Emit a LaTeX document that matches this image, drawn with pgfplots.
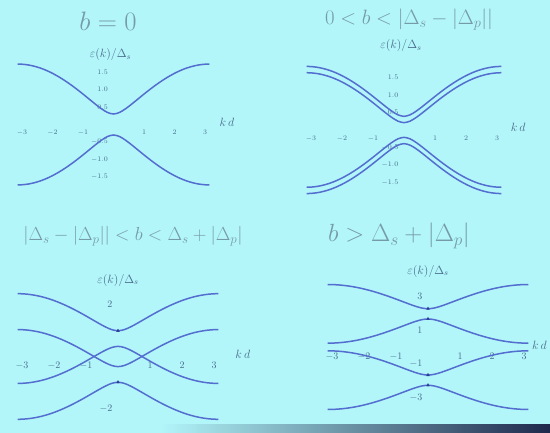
\documentclass[border=0pt]{standalone}
\usepackage{pgfplots}
\pgfplotsset{compat=1.18}
\usepackage{pgfplotstable}

\definecolor{screen}{RGB}{178,246,250}
\definecolor{band}{RGB}{84,110,208}
\definecolor{lbl}{RGB}{72,108,138}
\definecolor{ttl}{RGB}{118,155,168}
\definecolor{frame}{RGB}{30,40,75}
\definecolor{spin}{RGB}{40,60,150}

% quasiparticle bands eps(k)/Delta_s, one table per Zeeman field b
% b = 0
\pgfplotstableread{
k     a      d
-3.14 1.726 -1.726
-3.0  1.722 -1.722
-2.8  1.702 -1.702
-2.6  1.665 -1.665
-2.4  1.613 -1.613
-2.2  1.545 -1.545
-2.0  1.462 -1.462
-1.8  1.365 -1.365
-1.6  1.256 -1.256
-1.4  1.136 -1.136
-1.2  1.006 -1.006
-1.0  0.869 -0.869
-0.8  0.727 -0.727
-0.6  0.585 -0.585
-0.4  0.452 -0.452
-0.2  0.345 -0.345
0     0.300 -0.300
0.2   0.345 -0.345
0.4   0.452 -0.452
0.6   0.585 -0.585
0.8   0.727 -0.727
1.0   0.869 -0.869
1.2   1.006 -1.006
1.4   1.136 -1.136
1.6   1.256 -1.256
1.8   1.365 -1.365
2.0   1.462 -1.462
2.2   1.545 -1.545
2.4   1.613 -1.613
2.6   1.665 -1.665
2.8   1.702 -1.702
3.0   1.722 -1.722
3.14  1.726 -1.726
}\bandsA

% small b
\pgfplotstableread{
k     a      b      c      d
-3.14 1.816 1.636 -1.636 -1.816
-3.0  1.812 1.632 -1.632 -1.812
-2.8  1.792 1.612 -1.612 -1.792
-2.6  1.755 1.575 -1.575 -1.755
-2.4  1.703 1.523 -1.523 -1.703
-2.2  1.635 1.455 -1.455 -1.635
-2.0  1.552 1.372 -1.372 -1.552
-1.8  1.455 1.275 -1.275 -1.455
-1.6  1.346 1.166 -1.166 -1.346
-1.4  1.226 1.046 -1.046 -1.226
-1.2  1.096 0.916 -0.916 -1.096
-1.0  0.959 0.779 -0.779 -0.959
-0.8  0.817 0.637 -0.637 -0.817
-0.6  0.675 0.495 -0.495 -0.675
-0.4  0.542 0.362 -0.362 -0.542
-0.2  0.435 0.255 -0.255 -0.435
0     0.390 0.210 -0.210 -0.390
0.2   0.435 0.255 -0.255 -0.435
0.4   0.542 0.362 -0.362 -0.542
0.6   0.675 0.495 -0.495 -0.675
0.8   0.817 0.637 -0.637 -0.817
1.0   0.959 0.779 -0.779 -0.959
1.2   1.096 0.916 -0.916 -1.096
1.4   1.226 1.046 -1.046 -1.226
1.6   1.346 1.166 -1.166 -1.346
1.8   1.455 1.275 -1.275 -1.455
2.0   1.552 1.372 -1.372 -1.552
2.2   1.635 1.455 -1.455 -1.635
2.4   1.703 1.523 -1.523 -1.703
2.6   1.755 1.575 -1.575 -1.755
2.8   1.792 1.612 -1.612 -1.792
3.0   1.812 1.632 -1.632 -1.812
3.14  1.816 1.636 -1.636 -1.816
}\bandsB

% intermediate b: inner bands cross zero
\pgfplotstableread{
k     a      b      c      d
-3.14 2.416  1.036 -1.036 -2.416
-3.0  2.412  1.032 -1.032 -2.412
-2.8  2.392  1.012 -1.012 -2.392
-2.6  2.355  0.975 -0.975 -2.355
-2.4  2.303  0.923 -0.923 -2.303
-2.2  2.235  0.855 -0.855 -2.235
-2.0  2.152  0.772 -0.772 -2.152
-1.8  2.055  0.675 -0.675 -2.055
-1.6  1.946  0.566 -0.566 -1.946
-1.4  1.826  0.446 -0.446 -1.826
-1.2  1.696  0.316 -0.316 -1.696
-1.0  1.559  0.179 -0.179 -1.559
-0.8  1.417  0.037 -0.037 -1.417
-0.6  1.275 -0.105  0.105 -1.275
-0.4  1.142 -0.238  0.238 -1.142
-0.2  1.035 -0.345  0.345 -1.035
0     0.990 -0.390  0.390 -0.990
0.2   1.035 -0.345  0.345 -1.035
0.4   1.142 -0.238  0.238 -1.142
0.6   1.275 -0.105  0.105 -1.275
0.8   1.417  0.037 -0.037 -1.417
1.0   1.559  0.179 -0.179 -1.559
1.2   1.696  0.316 -0.316 -1.696
1.4   1.826  0.446 -0.446 -1.826
1.6   1.946  0.566 -0.566 -1.946
1.8   2.055  0.675 -0.675 -2.055
2.0   2.152  0.772 -0.772 -2.152
2.2   2.235  0.855 -0.855 -2.235
2.4   2.303  0.923 -0.923 -2.303
2.6   2.355  0.975 -0.975 -2.355
2.8   2.392  1.012 -1.012 -2.392
3.0   2.412  1.032 -1.032 -2.412
3.14  2.416  1.036 -1.036 -2.416
}\bandsC

% large b: four separated bands
\pgfplotstableread{
k     a      b      c      d
-3.14 3.676  0.224 -0.224 -3.676
-3.0  3.672  0.228 -0.228 -3.672
-2.8  3.652  0.248 -0.248 -3.652
-2.6  3.615  0.285 -0.285 -3.615
-2.4  3.563  0.337 -0.337 -3.563
-2.2  3.495  0.405 -0.405 -3.495
-2.0  3.412  0.488 -0.488 -3.412
-1.8  3.315  0.585 -0.585 -3.315
-1.6  3.206  0.694 -0.694 -3.206
-1.4  3.086  0.814 -0.814 -3.086
-1.2  2.956  0.944 -0.944 -2.956
-1.0  2.819  1.081 -1.081 -2.819
-0.8  2.677  1.223 -1.223 -2.677
-0.6  2.535  1.365 -1.365 -2.535
-0.4  2.402  1.498 -1.498 -2.402
-0.2  2.295  1.605 -1.605 -2.295
0     2.250  1.650 -1.650 -2.250
0.2   2.295  1.605 -1.605 -2.295
0.4   2.402  1.498 -1.498 -2.402
0.6   2.535  1.365 -1.365 -2.535
0.8   2.677  1.223 -1.223 -2.677
1.0   2.819  1.081 -1.081 -2.819
1.2   2.956  0.944 -0.944 -2.956
1.4   3.086  0.814 -0.814 -3.086
1.6   3.206  0.694 -0.694 -3.206
1.8   3.315  0.585 -0.585 -3.315
2.0   3.412  0.488 -0.488 -3.412
2.2   3.495  0.405 -0.405 -3.495
2.4   3.563  0.337 -0.337 -3.563
2.6   3.615  0.285 -0.285 -3.615
2.8   3.652  0.248 -0.248 -3.652
3.0   3.672  0.228 -0.228 -3.672
3.14  3.676  0.224 -0.224 -3.676
}\bandsD

\pgfplotsset{
  bandaxis/.style={
    anchor=origin,
    axis lines=middle,
    axis line style={draw=none},
    major tick style={draw=none},
    xmin=-3.3, xmax=3.3,
    xtick={-3,-2,-1,1,2,3},
    tick label style={text=lbl},
    clip=false,
  },
  bandline/.style={draw=band, line width=1.5pt, no marks, smooth},
  fine/.style={
    tick label style={font=\fontsize{7.5}{9}\selectfont},
    yticklabel style={/pgf/number format/.cd, fixed, fixed zerofill, precision=1},
  },
  coarse/.style={
    tick label style={font=\fontsize{10}{11}\selectfont},
  },
}

\newcommand{\ylab}{\fontsize{12}{13}\selectfont}

\begin{document}
\begin{tikzpicture}
\useasboundingbox (0,0) rectangle (550pt,433pt);
\fill[screen] (0,0) rectangle (550pt,433pt);
\clip (0,0) rectangle (550pt,433pt);
\shade[left color=screen, right color=frame] (160pt,0) rectangle (550pt,8pt);

% titles
\node[text=ttl, font=\fontsize{25}{28}\selectfont] at (108pt,412pt) {\scalebox{1.07}{$b=0$}};
\node[text=ttl, font=\fontsize{21}{24}\selectfont] at (409pt,413pt) {$0<b<\bigl|\Delta_s-|\Delta_p|\bigr|$};
\node[text=ttl, font=\fontsize{20}{24}\selectfont] at (133pt,197pt) {\scalebox{0.91}{$\bigl|\Delta_s-|\Delta_p|\bigr|<b<\Delta_s+|\Delta_p|$}};
\node[text=ttl, font=\fontsize{23}{26}\selectfont] at (399pt,197pt) {$b>\Delta_s+|\Delta_p|$};

% top left
\begin{axis}[bandaxis, fine, at={(113.5pt,308.5pt)}, x=30.5pt, y=35pt,
  ymin=-1.9, ymax=1.9, ytick={-1.5,-1,-0.5,0.5,1,1.5}]
  \addplot[bandline] table[x=k, y=a] {\bandsA};
  \addplot[bandline] table[x=k, y=d] {\bandsA};
  \node[text=lbl, font=\ylab] at (axis cs:-0.1,2.0) {$\varepsilon(k)/\Delta_s$};
  \node[text=lbl, font=\ylab] at (axis cs:3.72,0.05) {$k\,d$};
\end{axis}

% top right
\begin{axis}[bandaxis, fine, at={(404pt,303pt)}, x=31pt, y=35pt,
  ymin=-1.9, ymax=1.9, ytick={-1.5,-1,-0.5,0.5,1,1.5}]
  \addplot[bandline] table[x=k, y=a] {\bandsB};
  \addplot[bandline] table[x=k, y=b] {\bandsB};
  \addplot[bandline] table[x=k, y=c] {\bandsB};
  \addplot[bandline] table[x=k, y=d] {\bandsB};
  \node[text=lbl, font=\ylab] at (axis cs:-0.1,2.4) {$\varepsilon(k)/\Delta_s$};
  \node[text=lbl, font=\ylab] at (axis cs:3.68,0.08) {$k\,d$};
\end{axis}

% bottom left
\begin{axis}[bandaxis, coarse, at={(118pt,76.5pt)}, x=32pt, y=26pt,
  ymin=-2.6, ymax=2.6, ytick={-2,2}]
  \addplot[bandline] table[x=k, y=a] {\bandsC};
  \addplot[bandline] table[x=k, y=b] {\bandsC};
  \addplot[bandline] table[x=k, y=c] {\bandsC};
  \addplot[bandline] table[x=k, y=d] {\bandsC};
  \addplot[only marks, mark=triangle*, mark size=1.6pt, color=spin]
    coordinates {(0,0.99) (0,-0.99)};
  \node[text=lbl, font=\ylab] at (axis cs:0,2.94) {$\varepsilon(k)/\Delta_s$};
  \node[text=lbl, font=\ylab] at (axis cs:3.9,0.1) {$k\,d$};
\end{axis}

% bottom right
\begin{axis}[bandaxis, coarse, at={(428pt,86pt)}, x=32pt, y=17pt,
  ymin=-3.9, ymax=3.9, ytick={-3,-1,1,3}]
  \addplot[bandline] table[x=k, y=a] {\bandsD};
  \addplot[bandline] table[x=k, y=b] {\bandsD};
  \addplot[bandline] table[x=k, y=c] {\bandsD};
  \addplot[bandline] table[x=k, y=d] {\bandsD};
  \addplot[only marks, mark=triangle*, mark size=1.6pt, color=spin]
    coordinates {(0,2.25) (0,1.65) (0,-1.65) (0,-2.25)};
  \node[text=lbl, font=\ylab] at (axis cs:0,4.47) {$\varepsilon(k)/\Delta_s$};
  \node[text=lbl, font=\ylab, anchor=east] at (axis cs:3.82,0.1) {$k\,d$};
\end{axis}
\end{tikzpicture}
\end{document}
